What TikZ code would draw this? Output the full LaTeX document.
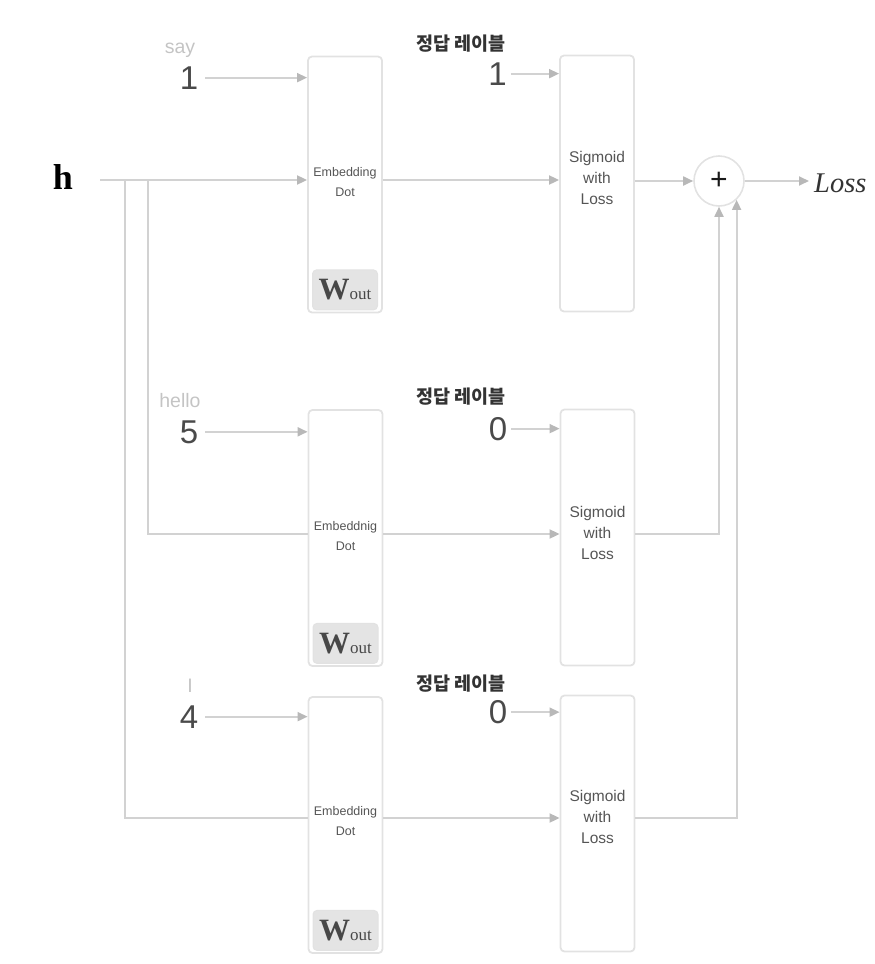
\documentclass[tikz,border=0pt]{standalone}
\usepackage{fontspec}
\setmainfont{Liberation Sans}
\newfontfamily\krfont{Noto Sans CJK KR}
\newfontfamily\serifrm{Liberation Serif}
\usetikzlibrary{arrows.meta,calc}
\definecolor{linec}{HTML}{D2D2D2}
\definecolor{tipc}{HTML}{B8B8B8}
\definecolor{boxc}{HTML}{E2E2E2}
\definecolor{wfill}{HTML}{E4E4E4}
\definecolor{numc}{HTML}{4A4A4A}
\definecolor{wordc}{HTML}{C4C4C4}
\definecolor{txtc}{HTML}{555555}
\begin{document}
\begin{tikzpicture}[x=1pt,y=-1pt,
  ln/.style={draw=linec,line width=1.8pt},
  arr/.style={ln,-{Triangle[length=10pt,width=9pt,color=tipc]}},
  blk/.style={draw=boxc,line width=1.8pt,rounded corners=4pt,minimum width=74pt,minimum height=256pt,inner sep=0pt},
  wbox/.style={fill=wfill,draw=boxc,line width=1pt,rounded corners=4pt,minimum width=65pt,minimum height=40pt,inner sep=0pt,text=black!72},
  num/.style={font=\fontsize{33}{33}\selectfont,text=numc,anchor=base,inner sep=0pt},
  word/.style={font=\fontsize{19.5}{20}\selectfont,text=wordc,anchor=base,inner sep=0pt},
  kr/.style={font=\krfont\bfseries\fontsize{18.5}{20}\selectfont,text=black!80,inner sep=0pt},
  embt/.style={font=\fontsize{12.5}{20}\selectfont,text=txtc,align=center,inner sep=0pt},
  sigt/.style={font=\fontsize{15.5}{21}\selectfont,text=txtc,align=center,inner sep=0pt},
]
\useasboundingbox (0,0) rectangle (875,964);

% blocks
\node[blk] (emb1) at (345,184.5) {};
\node[blk] (emb2) at (345.5,538) {};
\node[blk] (emb3) at (345.5,825) {};
\node[blk] (sig1) at (597,183.5) {};
\node[blk] (sig2) at (597.5,537.5) {};
\node[blk] (sig3) at (597.5,823.5) {};

% W_out boxes
\node[wbox,anchor=south] (w1) at ([yshift=3pt]emb1.south) {{\serifrm\bfseries\fontsize{31}{31}\selectfont W}{\serifrm\fontsize{17}{17}\selectfont out}};
\node[wbox,anchor=south] (w2) at ([yshift=3pt]emb2.south) {{\serifrm\bfseries\fontsize{31}{31}\selectfont W}{\serifrm\fontsize{17}{17}\selectfont out}};
\node[wbox,anchor=south] (w3) at ([yshift=3pt]emb3.south) {{\serifrm\bfseries\fontsize{31}{31}\selectfont W}{\serifrm\fontsize{17}{17}\selectfont out}};

% block texts
\node[embt] (et1) at (345,182.5) {Embedding\\Dot};
\node[embt] (et2) at (345.5,536.5) {Embeddnig\\Dot};
\node[embt] (et3) at (345.5,821) {Embedding\\Dot};
\node[sigt] (st1) at (597,178) {Sigmoid\\with\\Loss};
\node[sigt] (st2) at (597.5,532.5) {Sigmoid\\with\\Loss};
\node[sigt] (st3) at (597.5,817) {Sigmoid\\with\\Loss};

% inputs
\node[word] (say) at (180,53) {say};
\node[num] (n1) at (189,89) {1};
\node[word] (hello) at (180,407) {hello};
\node[num] (n5) at (189,443) {5};
\node[word] (wI) at (190,692) {I};
\node[num] (n4) at (189,728) {4};

% labels
\node[kr] (kr1) at (461,44) {정답 레이블};
\node[kr] (kr2) at (461,397) {정답 레이블};
\node[kr] (kr3) at (461,683.5) {정답 레이블};
\node[num] (l1) at (497.5,85) {1};
\node[num] (l2) at (498,440) {0};
\node[num] (l3) at (498,723.5) {0};

% h, plus, loss
\node[font=\serifrm\bfseries\fontsize{36}{36}\selectfont,anchor=base,inner sep=0pt] (h) at (63,189) {h};
\node[circle,draw=boxc,line width=1.6pt,minimum size=50pt,inner sep=0pt,font=\fontsize{30}{30}\selectfont,text=black!90] (plus) at (719,181) {+};
\node[font=\serifrm\itshape\fontsize{28.5}{28.5}\selectfont,text=black!80,anchor=base west,inner sep=0pt] (loss) at (814,192) {Loss};

% connectors
\coordinate (hs) at (100,180);
\coordinate (b1) at (148,180);
\coordinate (b2) at (125,180);
\coordinate (r2) at (148,534);
\coordinate (r3) at (125,818);

\draw[arr] (hs) -- (hs -| emb1.west);
\draw[ln] (b1) -- (r2) -- (r2 -| emb2.west);
\draw[ln] (b2) -- (r3) -- (r3 -| emb3.west);

\draw[arr] (hs -| emb1.east) -- (hs -| sig1.west);
\draw[arr] (r2 -| emb2.east) -- (r2 -| sig2.west);
\draw[arr] (r3 -| emb3.east) -- (r3 -| sig3.west);

\draw[arr] ([xshift=7pt]n1.east) -- (n1.east -| emb1.west);
\draw[arr] ([xshift=7pt]n5.east) -- (n5.east -| emb2.west);
\draw[arr] ([xshift=7pt]n4.east) -- (n4.east -| emb3.west);

\draw[arr] ([xshift=4pt]l1.east) -- (l1.east -| sig1.west);
\draw[arr] ([xshift=4pt]l2.east) -- (l2.east -| sig2.west);
\draw[arr] ([xshift=4pt]l3.east) -- (l3.east -| sig3.west);

\draw[arr] (plus.west -| sig1.east) -- (plus.west);
\draw[arr] (r2 -| sig2.east) -| (plus.south);
\draw[arr] (r3 -| sig3.east) -| (plus.-47);
\draw[arr] (plus.east) -- ([xshift=-5pt]plus.east -| loss.west);
\end{tikzpicture}
\end{document}
